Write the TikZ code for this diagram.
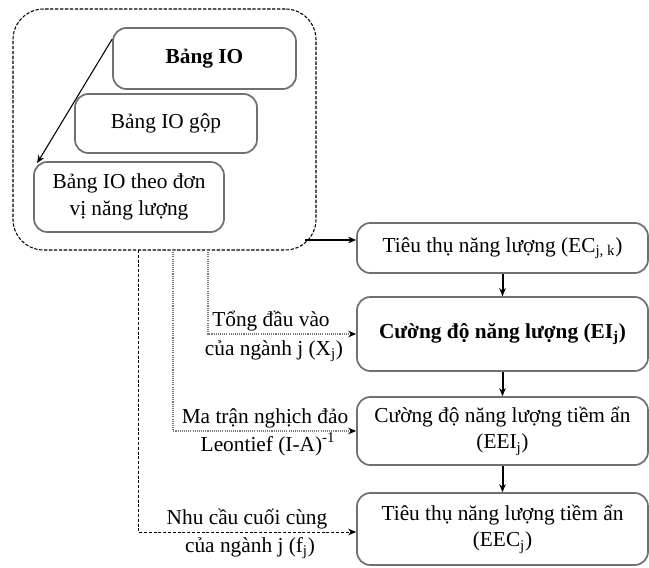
\documentclass[tikz,border=0pt]{standalone}
\usepackage{fontspec}
\setmainfont{Liberation Serif}
\usetikzlibrary{arrows.meta,calc}
\definecolor{boxgray}{RGB}{112,112,112}
\definecolor{dotgray}{RGB}{120,120,120}
\newcommand{\pxl}[1]{#1*0.75pt}
\begin{document}
\begin{tikzpicture}[x=0.75pt,y=-0.75pt,
  txt/.style={font=\fontsize{16}{20}\selectfont},
  box/.style={txt, draw=boxgray, line width=1.3pt, rounded corners=10pt, align=center, inner sep=2pt},
  outerbox/.style={draw=black, line width=0.8pt, dash pattern=on 2.5pt off 1.2pt, rounded corners=23pt, inner sep=0pt},
  arr/.style={-{Stealth[length=6pt,width=5pt,color=black]}},
  solidarr/.style={arr, line width=0.8pt},
  thickarr/.style={arr, line width=1.5pt},
  dashline/.style={arr, line width=0.7pt, dash pattern=on 2.2pt off 1.4pt},
  dotline/.style={arr, draw=dotgray, line width=0.8pt, dash pattern=on 0.8pt off 0.8pt},
  lbl/.style={txt, inner sep=0pt, anchor=base}]
\useasboundingbox (0,0) rectangle (649,567);

% outer dashed container
\node[outerbox, minimum width=\pxl{303}, minimum height=\pxl{241}] (outer) at (164.5,129.5) {};

% inner boxes
\node[box, minimum width=\pxl{183}, minimum height=\pxl{61}] (io) at (204.5,58.5) {\textbf{Bảng IO}};
\node[box, minimum width=\pxl{182}, minimum height=\pxl{59}] (gop) at (166,123.5) {Bảng IO gộp};
\node[box, minimum width=\pxl{190}, minimum height=\pxl{70}] (don) at (129,197) {Bảng IO theo đơn\\vị năng lượng};

% right column
\node[box, minimum width=\pxl{291}, minimum height=\pxl{50}] (ec) at (502.5,248) {Tiêu thụ năng lượng (EC\textsubscript{j, k})};
\node[box, minimum width=\pxl{291}, minimum height=\pxl{74}] (ei) at (502.5,334) {\textbf{Cường độ năng lượng (EI\textsubscript{j})}};
\node[box, minimum width=\pxl{291}, minimum height=\pxl{68}] (eei) at (502.5,431) {Cường độ năng lượng tiềm ẩn\\(EEI\textsubscript{j})};
\node[box, minimum width=\pxl{291}, minimum height=\pxl{72}] (eec) at (502.5,529) {Tiêu thụ năng lượng tiềm ẩn\\(EEC\textsubscript{j})};

% arrow inside container
\coordinate (iostart) at ($(io.north west)+(0,12)$);
\coordinate (donend) at ($(don.north west)+(4,2)$);
\draw[solidarr] (iostart) -- (donend);

% container to EC
\coordinate (o1) at (305,240);
\draw[solidarr] (o1) -- (o1 -| ec.west);

% vertical chain
\draw[thickarr] (ec) -- (ei);
\draw[thickarr] (ei) -- (eei);
\draw[thickarr] (eei) -- (eec);

% feeds from container
\coordinate (a0) at (138,250);
\coordinate (b0) at (173,250);
\coordinate (c0) at (208,250);
\coordinate (ae) at ($(eec.west)+(0,3)$);
\draw[dashline] (a0) |- (ae);
\draw[dotline] (b0) |- (eei.west);
\draw[dotline] (c0) |- (ei.west);

% labels
\node[lbl] (c1) at (271,326) {Tổng đầu vào};
\node[lbl] (c2) at (274,355) {của ngành j (X\textsubscript{j})};
\node[lbl] (b1) at (265,423) {Ma trận nghịch đảo};
\node[lbl] (b2) at (268,451) {Leontief (I-A)\textsuperscript{-1}};
\node[lbl] (a1) at (247,524) {Nhu cầu cuối cùng};
\node[lbl] (a2) at (250,552) {của ngành j (f\textsubscript{j})};
\end{tikzpicture}
\end{document}
